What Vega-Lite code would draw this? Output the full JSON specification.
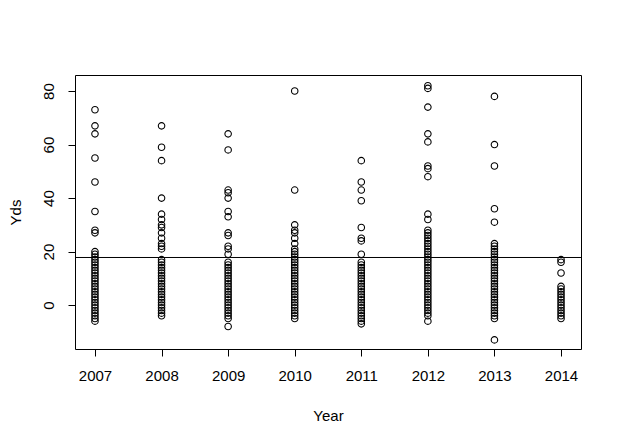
{
  "$schema": "https://vega.github.io/schema/vega-lite/v6.json",
  "width": 506,
  "height": 274,
  "autosize": {"type": "none"},
  "padding": {"left": 75, "top": 75, "right": 39, "bottom": 96},
  "background": "white",
  "config": {
    "view": {"stroke": "black", "strokeWidth": 1},
    "font": "Liberation Sans",
    "axis": {
      "domain": false,
      "grid": false,
      "tickColor": "black",
      "tickSize": 7,
      "tickWidth": 1,
      "labelColor": "black",
      "labelFont": "Liberation Sans",
      "labelFontSize": 15,
      "titleFont": "Liberation Sans",
      "titleFontSize": 15,
      "titleFontWeight": "normal",
      "titleColor": "black"
    }
  },
  "layer": [
    {
      "data": {"values": [
        {"Year":2007,"Yds":73},{"Year":2007,"Yds":67},{"Year":2007,"Yds":64},{"Year":2007,"Yds":55},{"Year":2007,"Yds":46},{"Year":2007,"Yds":35},{"Year":2007,"Yds":28},{"Year":2007,"Yds":27},
        {"Year":2007,"Yds":20},{"Year":2007,"Yds":19},{"Year":2007,"Yds":18},{"Year":2007,"Yds":17},{"Year":2007,"Yds":16},{"Year":2007,"Yds":15},{"Year":2007,"Yds":14},{"Year":2007,"Yds":13},{"Year":2007,"Yds":12},{"Year":2007,"Yds":11},{"Year":2007,"Yds":10},{"Year":2007,"Yds":9},{"Year":2007,"Yds":8},{"Year":2007,"Yds":7},{"Year":2007,"Yds":6},{"Year":2007,"Yds":5},{"Year":2007,"Yds":4},{"Year":2007,"Yds":3},{"Year":2007,"Yds":2},{"Year":2007,"Yds":1},{"Year":2007,"Yds":0},{"Year":2007,"Yds":-1},{"Year":2007,"Yds":-2},{"Year":2007,"Yds":-3},{"Year":2007,"Yds":-4},{"Year":2007,"Yds":-5},{"Year":2007,"Yds":-6},
        {"Year":2008,"Yds":67},{"Year":2008,"Yds":59},{"Year":2008,"Yds":54},{"Year":2008,"Yds":40},{"Year":2008,"Yds":34},{"Year":2008,"Yds":32},{"Year":2008,"Yds":30},{"Year":2008,"Yds":29},{"Year":2008,"Yds":27},{"Year":2008,"Yds":25},{"Year":2008,"Yds":23},{"Year":2008,"Yds":22},{"Year":2008,"Yds":21},
        {"Year":2008,"Yds":17},{"Year":2008,"Yds":16},{"Year":2008,"Yds":15},{"Year":2008,"Yds":14},{"Year":2008,"Yds":13},{"Year":2008,"Yds":12},{"Year":2008,"Yds":11},{"Year":2008,"Yds":10},{"Year":2008,"Yds":9},{"Year":2008,"Yds":8},{"Year":2008,"Yds":7},{"Year":2008,"Yds":6},{"Year":2008,"Yds":5},{"Year":2008,"Yds":4},{"Year":2008,"Yds":3},{"Year":2008,"Yds":2},{"Year":2008,"Yds":1},{"Year":2008,"Yds":0},{"Year":2008,"Yds":-1},{"Year":2008,"Yds":-2},{"Year":2008,"Yds":-3},{"Year":2008,"Yds":-4},
        {"Year":2009,"Yds":64},{"Year":2009,"Yds":58},{"Year":2009,"Yds":43},{"Year":2009,"Yds":42},{"Year":2009,"Yds":40},{"Year":2009,"Yds":35},{"Year":2009,"Yds":33},{"Year":2009,"Yds":27},{"Year":2009,"Yds":26},{"Year":2009,"Yds":22},{"Year":2009,"Yds":21},{"Year":2009,"Yds":19},
        {"Year":2009,"Yds":16},{"Year":2009,"Yds":15},{"Year":2009,"Yds":14},{"Year":2009,"Yds":13},{"Year":2009,"Yds":12},{"Year":2009,"Yds":11},{"Year":2009,"Yds":10},{"Year":2009,"Yds":9},{"Year":2009,"Yds":8},{"Year":2009,"Yds":7},{"Year":2009,"Yds":6},{"Year":2009,"Yds":5},{"Year":2009,"Yds":4},{"Year":2009,"Yds":3},{"Year":2009,"Yds":2},{"Year":2009,"Yds":1},{"Year":2009,"Yds":0},{"Year":2009,"Yds":-1},{"Year":2009,"Yds":-2},{"Year":2009,"Yds":-3},{"Year":2009,"Yds":-4},{"Year":2009,"Yds":-5},{"Year":2009,"Yds":-8},
        {"Year":2010,"Yds":80},{"Year":2010,"Yds":43},{"Year":2010,"Yds":30},{"Year":2010,"Yds":28},{"Year":2010,"Yds":27},{"Year":2010,"Yds":25},{"Year":2010,"Yds":23},{"Year":2010,"Yds":21},
        {"Year":2010,"Yds":20},{"Year":2010,"Yds":19},{"Year":2010,"Yds":18},{"Year":2010,"Yds":17},{"Year":2010,"Yds":16},{"Year":2010,"Yds":15},{"Year":2010,"Yds":14},{"Year":2010,"Yds":13},{"Year":2010,"Yds":12},{"Year":2010,"Yds":11},{"Year":2010,"Yds":10},{"Year":2010,"Yds":9},{"Year":2010,"Yds":8},{"Year":2010,"Yds":7},{"Year":2010,"Yds":6},{"Year":2010,"Yds":5},{"Year":2010,"Yds":4},{"Year":2010,"Yds":3},{"Year":2010,"Yds":2},{"Year":2010,"Yds":1},{"Year":2010,"Yds":0},{"Year":2010,"Yds":-1},{"Year":2010,"Yds":-2},{"Year":2010,"Yds":-3},{"Year":2010,"Yds":-4},{"Year":2010,"Yds":-5},
        {"Year":2011,"Yds":54},{"Year":2011,"Yds":46},{"Year":2011,"Yds":43},{"Year":2011,"Yds":39},{"Year":2011,"Yds":29},{"Year":2011,"Yds":25},{"Year":2011,"Yds":24},{"Year":2011,"Yds":19},
        {"Year":2011,"Yds":16},{"Year":2011,"Yds":15},{"Year":2011,"Yds":14},{"Year":2011,"Yds":13},{"Year":2011,"Yds":12},{"Year":2011,"Yds":11},{"Year":2011,"Yds":10},{"Year":2011,"Yds":9},{"Year":2011,"Yds":8},{"Year":2011,"Yds":7},{"Year":2011,"Yds":6},{"Year":2011,"Yds":5},{"Year":2011,"Yds":4},{"Year":2011,"Yds":3},{"Year":2011,"Yds":2},{"Year":2011,"Yds":1},{"Year":2011,"Yds":0},{"Year":2011,"Yds":-1},{"Year":2011,"Yds":-2},{"Year":2011,"Yds":-3},{"Year":2011,"Yds":-4},{"Year":2011,"Yds":-5},{"Year":2011,"Yds":-6},{"Year":2011,"Yds":-7},
        {"Year":2012,"Yds":82},{"Year":2012,"Yds":81},{"Year":2012,"Yds":74},{"Year":2012,"Yds":64},{"Year":2012,"Yds":61},{"Year":2012,"Yds":52},{"Year":2012,"Yds":51},{"Year":2012,"Yds":48},{"Year":2012,"Yds":34},{"Year":2012,"Yds":32},
        {"Year":2012,"Yds":28},{"Year":2012,"Yds":27},{"Year":2012,"Yds":26},{"Year":2012,"Yds":25},{"Year":2012,"Yds":24},{"Year":2012,"Yds":23},{"Year":2012,"Yds":22},{"Year":2012,"Yds":21},{"Year":2012,"Yds":20},{"Year":2012,"Yds":19},{"Year":2012,"Yds":18},{"Year":2012,"Yds":17},{"Year":2012,"Yds":16},{"Year":2012,"Yds":15},{"Year":2012,"Yds":14},{"Year":2012,"Yds":13},{"Year":2012,"Yds":12},{"Year":2012,"Yds":11},{"Year":2012,"Yds":10},{"Year":2012,"Yds":9},{"Year":2012,"Yds":8},{"Year":2012,"Yds":7},{"Year":2012,"Yds":6},{"Year":2012,"Yds":5},{"Year":2012,"Yds":4},{"Year":2012,"Yds":3},{"Year":2012,"Yds":2},{"Year":2012,"Yds":1},{"Year":2012,"Yds":0},{"Year":2012,"Yds":-1},{"Year":2012,"Yds":-2},{"Year":2012,"Yds":-3},{"Year":2012,"Yds":-4},{"Year":2012,"Yds":-6},
        {"Year":2013,"Yds":78},{"Year":2013,"Yds":60},{"Year":2013,"Yds":52},{"Year":2013,"Yds":36},{"Year":2013,"Yds":31},
        {"Year":2013,"Yds":23},{"Year":2013,"Yds":22},{"Year":2013,"Yds":21},{"Year":2013,"Yds":20},{"Year":2013,"Yds":19},{"Year":2013,"Yds":18},{"Year":2013,"Yds":17},{"Year":2013,"Yds":16},{"Year":2013,"Yds":15},{"Year":2013,"Yds":14},{"Year":2013,"Yds":13},{"Year":2013,"Yds":12},{"Year":2013,"Yds":11},{"Year":2013,"Yds":10},{"Year":2013,"Yds":9},{"Year":2013,"Yds":8},{"Year":2013,"Yds":7},{"Year":2013,"Yds":6},{"Year":2013,"Yds":5},{"Year":2013,"Yds":4},{"Year":2013,"Yds":3},{"Year":2013,"Yds":2},{"Year":2013,"Yds":1},{"Year":2013,"Yds":0},{"Year":2013,"Yds":-1},{"Year":2013,"Yds":-2},{"Year":2013,"Yds":-3},{"Year":2013,"Yds":-4},{"Year":2013,"Yds":-5},{"Year":2013,"Yds":-13},
        {"Year":2014,"Yds":17},{"Year":2014,"Yds":16},{"Year":2014,"Yds":12},{"Year":2014,"Yds":7},{"Year":2014,"Yds":6},{"Year":2014,"Yds":5},{"Year":2014,"Yds":4},{"Year":2014,"Yds":3},{"Year":2014,"Yds":2},{"Year":2014,"Yds":1},{"Year":2014,"Yds":0},{"Year":2014,"Yds":-1},{"Year":2014,"Yds":-2},{"Year":2014,"Yds":-3},{"Year":2014,"Yds":-4},{"Year":2014,"Yds":-5}
      ]},
      "mark": {"type": "point", "shape": "circle", "filled": false, "stroke": "black", "strokeWidth": 1.1, "size": 42, "opacity": 1},
      "encoding": {
        "x": {
          "field": "Year", "type": "quantitative",
          "scale": {"domain": [2006.7, 2014.3], "nice": false, "zero": false},
          "axis": {"values": [2007, 2008, 2009, 2010, 2011, 2012, 2013, 2014], "format": "d", "labelPadding": 12, "titleY": 66, "titleBaseline": "middle", "titlePadding": 0}
        },
        "y": {
          "field": "Yds", "type": "quantitative",
          "scale": {"domain": [-16.4, 86], "nice": false, "zero": false},
          "axis": {"values": [0, 20, 40, 60, 80], "labelAngle": -90, "labelAlign": "center", "labelBaseline": "bottom", "labelPadding": 12, "titleX": -60, "titleBaseline": "middle"}
        }
      }
    },
    {
      "data": {"values": [{"Yds": 17.8}]},
      "mark": {"type": "rule", "color": "black", "strokeWidth": 1},
      "encoding": {"y": {"field": "Yds", "type": "quantitative"}}
    }
  ]
}
